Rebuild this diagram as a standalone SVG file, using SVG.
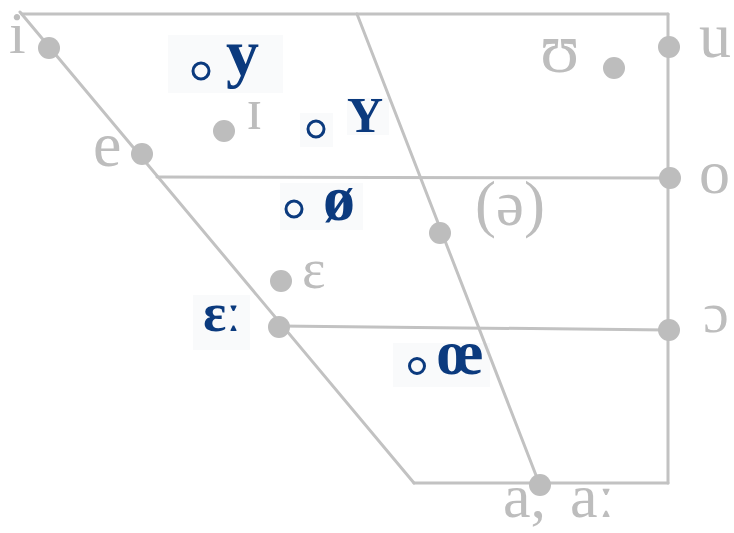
<svg xmlns="http://www.w3.org/2000/svg" width="734" height="533" viewBox="0 0 734 533">
<style>
.ln{stroke:#c2c2c2;stroke-width:3;fill:none;stroke-linecap:round}
.dot{fill:#bdbdbd}
.oc{fill:none;stroke:#0b3a7e;stroke-width:3}
.gl{font-family:"Liberation Serif","DejaVu Serif",serif;fill:#bdbdbd}
.bl{font-family:"Liberation Serif","DejaVu Serif",serif;fill:#0b3a7e;font-weight:bold}
.bg{fill:#f9fafb}
</style>
<rect width="734" height="533" fill="#ffffff"/>
<g id="label-backgrounds">
<rect class="bg" x="168" y="35" width="115" height="58"/>
<rect class="bg" x="300" y="113" width="33" height="34"/>
<rect class="bg" x="347" y="98" width="42" height="37"/>
<rect class="bg" x="280" y="183" width="83" height="47"/>
<rect class="bg" x="193" y="295" width="57" height="55"/>
<rect class="bg" x="393" y="343" width="97" height="44"/>
</g>
<g id="connectors">
<line class="ln" x1="22" y1="14" x2="668" y2="14"/>
<line class="ln" x1="668" y1="14" x2="668" y2="483"/>
<line class="ln" x1="20" y1="12" x2="414" y2="483"/>
<line class="ln" x1="414" y1="483" x2="668" y2="483"/>
<line class="ln" x1="357" y1="14" x2="539" y2="483"/>
<line class="ln" x1="157" y1="177" x2="668" y2="178"/>
<line class="ln" x1="279" y1="326" x2="668" y2="330"/>
</g>
<g id="v-i"><circle class="dot" cx="49" cy="48" r="11"/><text class="gl" x="9" y="53" font-size="60">i</text></g>
<g id="v-e"><circle class="dot" cx="142" cy="154" r="11"/><text class="gl" x="93" y="166" font-size="64">e</text></g>
<g id="v-I"><circle class="dot" cx="224" cy="131" r="11"/><text class="gl" x="246" y="129" font-size="60">ɪ</text></g>
<g id="v-upsilon"><circle class="dot" cx="614" cy="68" r="11"/><text class="gl" x="540" y="72" font-size="72">ʊ</text></g>
<g id="v-u"><circle class="dot" cx="669" cy="47" r="11"/><text class="gl" x="699" y="57" font-size="64">u</text></g>
<g id="v-o"><circle class="dot" cx="670" cy="178" r="11"/><text class="gl" x="699" y="193" font-size="62">o</text></g>
<g id="v-schwa"><circle class="dot" cx="440" cy="233" r="11"/><text class="gl" x="475" y="225" font-size="63">(ə)</text></g>
<g id="v-epsilon"><circle class="dot" cx="281" cy="281" r="11"/><text class="gl" x="302" y="288" font-size="56">ɛ</text></g>
<g id="v-epsilon-long"><circle class="dot" cx="279" cy="327" r="11"/><text class="bl" x="203" y="331" font-size="54">ɛː</text></g>
<g id="v-open-o"><circle class="dot" cx="669" cy="330" r="11"/><text class="gl" x="703" y="332" font-size="58">ɔ</text></g>
<g id="v-a"><circle class="dot" cx="540" cy="485" r="11"/><text class="gl" y="517" font-size="62"><tspan x="503">a,</tspan><tspan x="570">aː</tspan></text></g>
<g id="v-y"><circle class="oc" cx="201" cy="71" r="8"/><text class="bl" x="226" y="75" font-size="66">y</text></g>
<g id="v-Y"><circle class="oc" cx="316" cy="129" r="8"/><text class="bl" x="347" y="132" font-size="50">Y</text></g>
<g id="v-oslash"><circle class="oc" cx="294" cy="209" r="8"/><text class="bl" x="323" y="220" font-size="64">ø</text></g>
<g id="v-oe"><circle class="oc" cx="417" cy="366" r="7.5"/><text class="bl" x="437" y="374" font-size="64">œ</text></g>
</svg>
